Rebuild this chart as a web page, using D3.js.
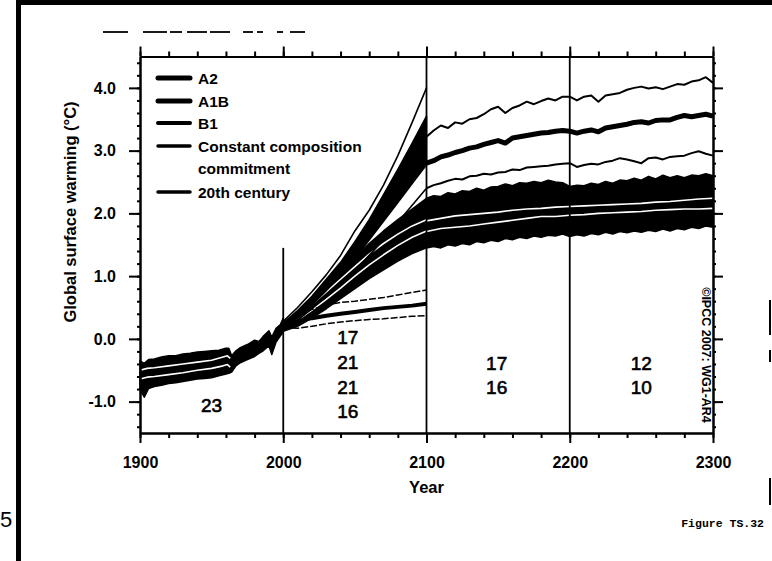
<!DOCTYPE html>
<html>
<head>
<meta charset="utf-8">
<script src="https://cdn.jsdelivr.net/npm/d3@7"></script>
<style>
  body { margin: 0; background: #fff; }
  svg { display: block; font-family: "Liberation Sans", Arial, Helvetica, sans-serif; }
  .axis path, .axis line { stroke: #000; stroke-width: 2; }
  .axis text { font-size: 16px; font-weight: bold; fill: #000; }
</style>
</head>
<body>
<div id="chart"></div>
<script>
// ---- data ----
const xTicks = [1900, 2000, 2100, 2200, 2300];
const yTicks = [-1.0, 0.0, 1.0, 2.0, 3.0, 4.0];

// 20th century ensemble (band + two white lines)
const years20 = [1900, 1903, 1906, 1910, 1915, 1920, 1925, 1930, 1935, 1940, 1945, 1950, 1955, 1960, 1962, 1964, 1967, 1970, 1975, 1980, 1983, 1986, 1990, 1992, 1995, 1998, 2000];
const hi20 = [-0.35, -0.39, -0.33, -0.32, -0.29, -0.27, -0.27, -0.24, -0.23, -0.21, -0.20, -0.19, -0.18, -0.15, -0.15, -0.27, -0.19, -0.14, -0.09, -0.02, -0.04, 0.04, 0.13, 0.03, 0.17, 0.23, 0.33];
const lo20 = [-0.81, -0.93, -0.79, -0.76, -0.74, -0.71, -0.70, -0.68, -0.66, -0.64, -0.63, -0.62, -0.59, -0.56, -0.55, -0.53, -0.43, -0.38, -0.33, -0.28, -0.23, -0.19, -0.11, -0.25, -0.05, 0.05, 0.11];
const yearsW20 = [1900, 1905, 1910, 1920, 1930, 1940, 1950, 1958, 1961, 1963];
const w20a = [-0.50, -0.47, -0.46, -0.43, -0.40, -0.37, -0.34, -0.29, -0.27, -0.31];
const w20b = [-0.64, -0.61, -0.60, -0.57, -0.54, -0.50, -0.47, -0.43, -0.41, -0.45];

// 21st century scenarios
const years21 = [2000, 2010, 2020, 2030, 2040, 2050, 2060, 2070, 2080, 2090, 2100];
const a2Upper = [0.28, 0.50, 0.75, 1.02, 1.33, 1.72, 2.05, 2.45, 2.92, 3.45, 4.00];
const a2Mean = [0.25, 0.45, 0.68, 0.95, 1.22, 1.55, 1.90, 2.30, 2.70, 3.12, 3.55];
const a1bMean = [0.20, 0.36, 0.56, 0.79, 1.03, 1.31, 1.60, 1.90, 2.20, 2.50, 2.80];
const a1bLow = [0.16, 0.30, 0.48, 0.67, 0.87, 1.09, 1.33, 1.58, 1.86, 2.13, 2.40];
const b1Hi = [0.25, 0.42, 0.62, 0.84, 1.06, 1.30, 1.52, 1.72, 1.90, 2.07, 2.24];
const b1Lo = [0.12, 0.20, 0.33, 0.48, 0.64, 0.80, 0.96, 1.10, 1.24, 1.36, 1.45];
const b1MeanA = [0.22, 0.36, 0.55, 0.75, 0.95, 1.15, 1.35, 1.52, 1.67, 1.80, 1.90];
const b1MeanB = [0.18, 0.30, 0.46, 0.63, 0.81, 1.00, 1.18, 1.34, 1.49, 1.62, 1.72];
const commitMean = [0.22, 0.28, 0.33, 0.37, 0.40, 0.43, 0.46, 0.49, 0.51, 0.53, 0.56];
const commitHi = [0.25, 0.38, 0.47, 0.54, 0.58, 0.60, 0.63, 0.66, 0.70, 0.74, 0.78];
const commitLo = [0.18, 0.17, 0.20, 0.24, 0.27, 0.29, 0.31, 0.32, 0.34, 0.36, 0.37];

// stabilisation after 2100 (5-year steps)
const years23 = d3.range(2100, 2301, 5);
const a1bHi3 = [3.22, 3.32, 3.40, 3.36, 3.45, 3.43, 3.50, 3.52, 3.58, 3.66, 3.70, 3.60, 3.68, 3.72, 3.78, 3.74, 3.79, 3.83, 3.80, 3.86, 3.86,
                3.80, 3.86, 3.88, 3.78, 3.88, 3.90, 3.92, 3.97, 4.00, 4.02, 3.99, 4.01, 3.98, 4.02, 4.06, 4.05, 4.10, 4.12, 4.17, 4.08];
const a1bMean3 = [2.80, 2.84, 2.90, 2.93, 2.97, 3.00, 3.04, 3.06, 3.10, 3.13, 3.16, 3.12, 3.20, 3.22, 3.24, 3.26, 3.28, 3.29, 3.31, 3.32, 3.31,
                  3.28, 3.31, 3.33, 3.30, 3.36, 3.38, 3.40, 3.42, 3.45, 3.46, 3.44, 3.48, 3.49, 3.49, 3.53, 3.56, 3.54, 3.56, 3.58, 3.55];
const a1bLo3 = [2.40, 2.45, 2.48, 2.52, 2.55, 2.54, 2.59, 2.60, 2.63, 2.62, 2.65, 2.66, 2.70, 2.69, 2.73, 2.74, 2.75, 2.76, 2.78, 2.79, 2.80,
                2.74, 2.77, 2.79, 2.78, 2.82, 2.84, 2.88, 2.86, 2.83, 2.80, 2.88, 2.89, 2.86, 2.90, 2.91, 2.92, 2.96, 2.99, 2.95, 2.92];
const b1Hi3 = [2.24, 2.28, 2.27, 2.33, 2.31, 2.36, 2.35, 2.40, 2.37, 2.42, 2.43, 2.47, 2.44, 2.49, 2.48, 2.51, 2.49, 2.53, 2.50, 2.49, 2.43,
               2.45, 2.44, 2.48, 2.46, 2.51, 2.48, 2.53, 2.52, 2.56, 2.53, 2.59, 2.55, 2.61, 2.57, 2.60, 2.57, 2.61, 2.60, 2.63, 2.60];
const b1Lo3 = [1.45, 1.47, 1.45, 1.50, 1.48, 1.52, 1.50, 1.55, 1.53, 1.57, 1.55, 1.60, 1.58, 1.62, 1.60, 1.64, 1.62, 1.65, 1.64, 1.67, 1.63,
               1.66, 1.64, 1.68, 1.66, 1.70, 1.67, 1.71, 1.69, 1.72, 1.70, 1.73, 1.71, 1.75, 1.72, 1.76, 1.74, 1.78, 1.76, 1.80, 1.78];
const yearsW23 = [2100, 2110, 2120, 2130, 2140, 2150, 2160, 2170, 2180, 2190, 2200, 2210, 2220, 2230, 2240, 2250, 2260, 2270, 2280, 2290, 2300];
const b1MeanA3 = [1.88, 1.92, 1.96, 1.98, 2.00, 2.02, 2.05, 2.07, 2.08, 2.10, 2.11, 2.12, 2.13, 2.14, 2.15, 2.16, 2.18, 2.19, 2.21, 2.23, 2.24];
const b1MeanB3 = [1.71, 1.76, 1.78, 1.80, 1.83, 1.86, 1.89, 1.92, 1.95, 1.95, 1.97, 1.98, 2.00, 2.01, 2.02, 2.03, 2.05, 2.06, 2.07, 2.07, 2.08];

// model counts per period
const countLabels = [
  { year: 1950, v: -1.05, text: "23" },
  { year: 2045, v: 0.02, text: "17" },
  { year: 2045, v: -0.37, text: "21" },
  { year: 2045, v: -0.77, text: "21" },
  { year: 2045, v: -1.15, text: "16" },
  { year: 2149, v: -0.38, text: "17" },
  { year: 2149, v: -0.77, text: "16" },
  { year: 2250, v: -0.38, text: "12" },
  { year: 2250, v: -0.77, text: "10" }
];

const legendItems = ["A2", "A1B", "B1", "Constant composition", "20th century"];
const legendWidths = [5, 5, 4, 3.5, 3.5];

// ---- drawing ----
const W = 772, H = 561;
const svg = d3.select("#chart").append("svg").attr("width", W).attr("height", H);
svg.append("rect").attr("width", W).attr("height", H).attr("fill", "#fff");

const x = d3.scaleLinear().domain([1900, 2300]).range([140, 713]);
const y = d3.scaleLinear().domain([-1.5, 4.5]).range([433, 56.5]);

const zip = (xs, ys) => xs.map((d, i) => [d, ys[i]]);
const line = d3.line().x(d => x(d[0])).y(d => y(d[1]));
const band = (xs, lo, hi) => d3.area()
  .x((d, i) => x(xs[i])).y0((d, i) => y(lo[i])).y1((d, i) => y(hi[i]))(xs);

const plot = svg.append("g");

function stroke(pts, w, col, dash) {
  plot.append("path").attr("d", line(pts)).attr("fill", "none")
    .attr("stroke", col || "#000").attr("stroke-width", w)
    .attr("stroke-linejoin", "round")
    .attr("stroke-dasharray", dash || null);
}
function fillBand(xs, lo, hi) {
  plot.append("path").attr("d", band(xs, lo, hi)).attr("fill", "#000")
    .attr("stroke", "#000").attr("stroke-width", 1.5).attr("stroke-linejoin", "round");
}

// 20th century
fillBand(years20, lo20, hi20);
stroke(zip(yearsW20, w20a), 1.6, "#fff");
stroke(zip(yearsW20, w20b), 1.6, "#fff");

// B1 band 2000-2300
fillBand(years21, b1Lo, b1Hi);
fillBand(years23, b1Lo3, b1Hi3);
stroke(zip(years21, b1MeanA), 1.6, "#fff");
stroke(zip(years21, b1MeanB), 1.6, "#fff");
stroke(zip(yearsW23, b1MeanA3), 1.6, "#fff");
stroke(zip(yearsW23, b1MeanB3), 1.6, "#fff");

// A2 / A1B wedge
fillBand(years21, a1bMean, a2Mean);
stroke(zip(years21, a2Upper), 1.6);
stroke(zip(years21, a1bLow), 1.6);
stroke(zip(years21, a1bMean), 3.5);

// A1B after 2100
stroke(zip(years23, a1bHi3), 2);
stroke(zip(years23, a1bMean3), 5);
stroke(zip(years23, a1bLo3), 2);

// constant composition commitment
stroke(zip(years21, commitHi), 1.5, "#000", "7,2");
stroke(zip(years21, commitLo), 1.5, "#000", "7,2");
stroke(zip(years21, commitMean), 4);

// vertical period separators
plot.append("line").attr("x1", x(2000)).attr("x2", x(2000))
  .attr("y1", y(1.45)).attr("y2", y(-1.5)).attr("stroke", "#000").attr("stroke-width", 1.8);
[2100, 2200].forEach(yr => {
  plot.append("line").attr("x1", x(yr)).attr("x2", x(yr))
    .attr("y1", y(4.5)).attr("y2", y(-1.5)).attr("stroke", "#000").attr("stroke-width", 1.8);
});

// axes
const xMinor = d3.range(1900, 2301, 20);
const yMinor = d3.range(-14, 45, 2).map(d => d / 10);

svg.append("g").attr("class", "axis").attr("transform", `translate(0,${y(-1.5)})`)
  .call(d3.axisBottom(x).tickValues(xMinor).tickSize(5).tickSizeOuter(0).tickFormat(""));
svg.append("g").attr("class", "axis").attr("transform", `translate(0,${y(-1.5)})`)
  .call(d3.axisBottom(x).tickValues(xTicks).tickSize(10).tickSizeOuter(0).tickPadding(14).tickFormat(d3.format("d")));
svg.append("g").attr("class", "axis").attr("transform", `translate(0,${y(4.5)})`)
  .call(d3.axisTop(x).tickValues(xMinor).tickSize(5).tickSizeOuter(0).tickFormat(""));
svg.append("g").attr("class", "axis").attr("transform", `translate(0,${y(4.5)})`)
  .call(d3.axisTop(x).tickValues(xTicks).tickSize(10).tickSizeOuter(0).tickFormat(""));

svg.append("g").attr("class", "axis").attr("transform", `translate(${x(1900)},0)`)
  .call(d3.axisLeft(y).tickValues(yMinor).tickSize(3).tickSizeOuter(0).tickFormat(""));
svg.append("g").attr("class", "axis").attr("transform", `translate(${x(1900)},0)`)
  .call(d3.axisLeft(y).tickValues(yTicks).tickSize(11).tickSizeOuter(0).tickPadding(13).tickFormat(d3.format(".1f")));
svg.append("g").attr("class", "axis").attr("transform", `translate(${x(2300)},0)`)
  .call(d3.axisRight(y).tickValues(yMinor).tickSize(3).tickSizeOuter(0).tickFormat(""));
svg.append("g").attr("class", "axis").attr("transform", `translate(${x(2300)},0)`)
  .call(d3.axisRight(y).tickValues(yTicks).tickSize(10).tickSizeOuter(0).tickFormat(""));

svg.selectAll(".axis text").text(function() { return this.textContent.replace("\u2212", "-"); });

// axis titles
svg.append("text").attr("x", x(2100)).attr("y", 493).attr("text-anchor", "middle")
  .attr("font-size", 16.5).attr("font-weight", "bold").text("Year");
svg.append("text").attr("transform", "translate(76,212) rotate(-90)").attr("text-anchor", "middle")
  .attr("font-size", 16.5).attr("font-weight", "bold").text("Global surface warming (\u00B0C)");

// legend
const lg = svg.append("g");
const rows = [78, 101, 123, 146, 192];
legendItems.forEach((name, i) => {
  lg.append("line").attr("x1", 158).attr("x2", 190).attr("y1", rows[i]).attr("y2", rows[i])
    .attr("stroke", "#000").attr("stroke-width", legendWidths[i]).attr("stroke-linecap", "round");
  lg.append("text").attr("x", 198).attr("y", rows[i]).attr("dy", "0.36em")
    .attr("font-size", 15.5).attr("font-weight", "bold").text(name);
});
lg.append("text").attr("x", 198).attr("y", 168).attr("dy", "0.36em")
  .attr("font-size", 15.5).attr("font-weight", "bold").text("commitment");

// model counts
svg.append("g").selectAll("text").data(countLabels).join("text")
  .attr("x", d => x(d.year)).attr("y", d => y(d.v)).attr("dy", "0.36em")
  .attr("text-anchor", "middle").attr("font-size", 19)
  .style("paint-order", "stroke").attr("stroke", "#000").attr("stroke-width", 0.6)
  .text(d => d.text);

// copyright
svg.append("text").attr("transform", "translate(702,355) rotate(90)").attr("text-anchor", "middle")
  .attr("font-size", 12.5).attr("font-weight", "bold").text("\u00A9IPCC 2007: WG1-AR4");

// scanned page furniture
svg.append("rect").attr("x", 16).attr("y", 0).attr("width", 5).attr("height", H).attr("fill", "#000");
svg.append("rect").attr("x", 16).attr("y", 0).attr("width", W - 16).attr("height", 5).attr("fill", "#000");
[[103, 128], [143, 167], [170, 182], [187, 207], [210, 230], [243, 253], [257, 263], [277, 283], [290, 305]]
  .forEach(s => svg.append("line").attr("x1", s[0]).attr("x2", s[1]).attr("y1", 32).attr("y2", 32)
    .attr("stroke", "#000").attr("stroke-width", 1.8));
[[300, 335], [350, 362], [478, 505]]
  .forEach(s => svg.append("line").attr("x1", 770).attr("x2", 770).attr("y1", s[0]).attr("y2", s[1])
    .attr("stroke", "#000").attr("stroke-width", 2));
svg.append("text").attr("x", 764).attr("y", 527).attr("text-anchor", "end")
  .attr("font-family", "'Liberation Mono', 'DejaVu Sans Mono', monospace")
  .attr("font-size", 11.5).attr("font-weight", "bold").text("Figure TS.32");
svg.append("text").attr("x", 0).attr("y", 527)
  .attr("font-size", 22).text("5");
</script>
</body>
</html>
